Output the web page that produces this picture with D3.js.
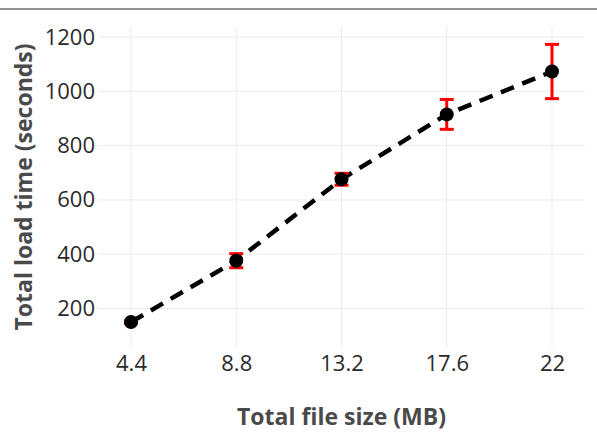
<!DOCTYPE html>
<html>
<head>
<meta charset="utf-8">
<script src="https://cdn.jsdelivr.net/npm/d3@7"></script>
<style>
  body { margin: 0; background: #fff; }
  text { font-family: "Open Sans", sans-serif; }
</style>
</head>
<body>
<div class="chart"></div>
<script>
// file size (MB) vs total load time (s), with spread
var sizes = [4.4, 8.8, 13.2, 17.6, 22]
var loadTimes = [150, 376, 676, 915, 1073]
var errors = [4, 26, 22, 55, 100]
var xTicks = [4.4, 8.8, 13.2, 17.6, 22]
var yTicks = [200, 400, 600, 800, 1000, 1200]

var W = 597, H = 433
var plot = { left: 98, right: 585, top: 27, bottom: 347 }

var svg = d3.select('.chart')
  .append('svg')
    .attr('width', W)
    .attr('height', H)

// grey rule across the top
svg.append('line')
  .attr('x1', 0).attr('x2', W)
  .attr('y1', 9).attr('y2', 9)
  .attr('stroke', '#6e6e6e')
  .attr('stroke-width', 1.5)

var x = d3.scaleLinear()
  .domain([3.02, 23.38])
  .range([plot.left, plot.right])

var y = d3.scaleLinear()
  .domain([58, 1237])
  .range([plot.bottom, plot.top])

// gridlines
svg.append('g')
  .selectAll('line')
  .data(xTicks)
  .join('line')
    .attr('x1', d => x(d)).attr('x2', d => x(d))
    .attr('y1', plot.top).attr('y2', plot.bottom)
    .attr('stroke', '#ebebeb')
    .attr('stroke-width', 1)

svg.append('g')
  .selectAll('line')
  .data(yTicks)
  .join('line')
    .attr('x1', plot.left).attr('x2', plot.right)
    .attr('y1', d => y(d)).attr('y2', d => y(d))
    .attr('stroke', '#ebebeb')
    .attr('stroke-width', 1)

// axes, ticks hidden, labels only
var xAxis = d3.axisBottom(x)
  .tickValues(xTicks)
  .tickFormat(d3.format('~g'))
  .tickSize(0)
  .tickPadding(8)

var yAxis = d3.axisLeft(y)
  .tickValues(yTicks)
  .tickFormat(d3.format('d'))
  .tickSize(0)
  .tickPadding(3)

var gx = svg.append('g')
  .attr('transform', `translate(0, ${plot.bottom})`)
  .call(xAxis)
var gy = svg.append('g')
  .attr('transform', `translate(${plot.left}, 0)`)
  .call(yAxis)

gx.select('.domain').remove()
gy.select('.domain').remove()
svg.selectAll('.tick text')
  .attr('font-size', 22)
  .attr('font-family', 'Open Sans')
  .attr('fill', '#2a2a2a')

// dashed trend line
var line = d3.line()
  .x((d, i) => x(sizes[i]))
  .y(d => y(d))

svg.append('path')
  .datum(loadTimes)
  .attr('d', line)
  .attr('fill', 'none')
  .attr('stroke', '#000')
  .attr('stroke-width', 4.5)
  .attr('stroke-dasharray', '14,9')

// error bars
var eb = svg.append('g')
  .attr('stroke', '#ff0000')
  .attr('stroke-width', 3)
  .selectAll('g')
  .data(loadTimes)
  .join('g')

eb.append('line')
  .attr('x1', (d, i) => x(sizes[i])).attr('x2', (d, i) => x(sizes[i]))
  .attr('y1', (d, i) => y(d - errors[i])).attr('y2', (d, i) => y(d + errors[i]))
eb.append('line')
  .attr('x1', (d, i) => x(sizes[i]) - 7).attr('x2', (d, i) => x(sizes[i]) + 7)
  .attr('y1', (d, i) => y(d - errors[i])).attr('y2', (d, i) => y(d - errors[i]))
eb.append('line')
  .attr('x1', (d, i) => x(sizes[i]) - 7).attr('x2', (d, i) => x(sizes[i]) + 7)
  .attr('y1', (d, i) => y(d + errors[i])).attr('y2', (d, i) => y(d + errors[i]))

// markers
svg.append('g')
  .selectAll('circle')
  .data(loadTimes)
  .join('circle')
    .attr('cx', (d, i) => x(sizes[i]))
    .attr('cy', d => y(d))
    .attr('r', 7)
    .attr('fill', '#000')

// axis titles
svg.append('text')
  .attr('x', (plot.left + plot.right) / 2)
  .attr('y', 425)
  .attr('text-anchor', 'middle')
  .attr('font-size', 23)
  .attr('font-weight', 'bold')
  .attr('fill', '#4a4a4a')
  .text('Total file size (MB)')

svg.append('text')
  .attr('transform', `translate(32, ${(plot.top + plot.bottom) / 2}) rotate(-90)`)
  .attr('text-anchor', 'middle')
  .attr('font-size', 23)
  .attr('font-weight', 'bold')
  .attr('fill', '#4a4a4a')
  .text('Total load time (seconds)')
</script>
</body>
</html>
